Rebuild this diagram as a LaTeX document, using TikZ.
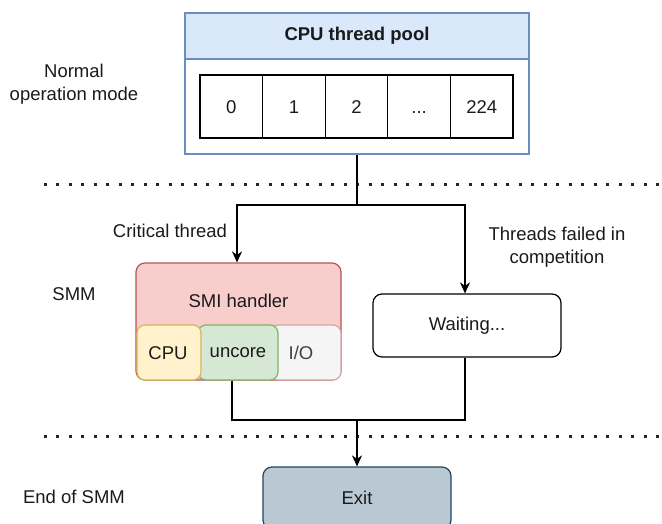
\documentclass[tikz,border=0pt]{standalone}
\usepackage{fontspec}
\setmainfont{Liberation Sans}
\usetikzlibrary{arrows.meta,calc}
\definecolor{hdrfill}{HTML}{DAE8FC}
\definecolor{hdrline}{HTML}{6C8EBF}
\definecolor{smifill}{HTML}{F8CECC}
\definecolor{smiline}{HTML}{B85450}
\definecolor{cpufill}{HTML}{FFF2CC}
\definecolor{cpuline}{HTML}{D6B656}
\definecolor{uncfill}{HTML}{D5E8D4}
\definecolor{uncline}{HTML}{82B366}
\definecolor{iofill}{HTML}{F5F5F5}
\definecolor{ioline}{HTML}{D9A3A1}
\definecolor{exitfill}{HTML}{BAC8D3}
\definecolor{exitline}{HTML}{23445D}
\definecolor{ink}{HTML}{1A1A1A}
\tikzset{
  txt/.style={font=\fontsize{18.5}{23}\selectfont, text=ink, align=center, inner sep=0pt},
  cell/.style={draw=black, line width=1.3pt, minimum width=62.6pt, minimum height=63pt, inner sep=0pt,
               text height=13.3pt, text depth=0pt, txt},
  wire/.style={draw=black, line width=1.3pt},
  arrowwire/.style={wire, -{Stealth[length=11pt,width=10pt,inset=3.5pt]}},
  divider/.style={line width=3pt, dash pattern=on 3pt off 9.5pt, draw=black!85},
  rbox/.style={rounded corners=9pt, line width=1.2pt, inner sep=0pt},
}
\begin{document}
\begin{tikzpicture}[x=1pt,y=-1pt]
\useasboundingbox (0,0) rectangle (662,524);

% phase labels on the left
\node[txt] (lblnormal) at (74,84) {Normal\\operation mode};
\node[txt] (lblsmm) at (74,294) {SMM};
\node[txt] (lblend) at (74,497) {End of SMM};

% phase dividers
\draw[divider] (43.5,185) -- (662,185);
\draw[divider] (43.5,436) -- (662,436);

% thread pool
\node[fill=hdrfill, draw=hdrline, line width=1.2pt, minimum width=344pt, minimum height=46pt, inner sep=0pt,
      txt, font=\fontsize{18.5}{23}\selectfont\bfseries] (head) at (357,36) {CPU thread pool};
\node[draw=hdrline, line width=1.2pt, minimum width=344pt, minimum height=141pt, inner sep=0pt] (pool) at (357,83.5) {};
\node[cell] (c0) at (231.3,106.5) {0};
\node[cell] (c1) at (293.9,106.5) {1};
\node[cell] (c2) at (356.5,106.5) {2};
\node[cell] (c3) at (419.1,106.5) {...};
\node[cell] (c4) at (481.7,106.5) {224};

% SMI handler with its parts
\node[rbox, fill=smifill, draw=smiline, minimum width=205pt, minimum height=117pt] (smi) at (238.5,321.5) {};
\node[txt] (smilabel) at (238.5,301) {SMI handler};
\node[rbox, rounded corners=8pt, fill=iofill, draw=ioline, minimum width=71pt, minimum height=55pt] (io) at (305.5,352.5) {};
\node[rbox, rounded corners=8pt, fill=uncfill, draw=uncline, minimum width=80pt, minimum height=55pt] (unc) at (238,352.5) {};
\node[rbox, rounded corners=8pt, fill=cpufill, draw=cpuline, minimum width=64pt, minimum height=55pt] (cpu) at (169,352.5) {};
\node[txt] (cputxt) at (168,353) {CPU};
\node[txt] (unctxt) at (238,353) {uncore};
\node[txt, text=black!75] (iotxt) at (301,353) {I/O};

% waiting threads
\node[rbox, draw=black, fill=white, minimum width=188pt, minimum height=63pt, txt] (wait) at (467,325.5) {Waiting...};

% exit
\node[rbox, fill=exitfill, draw=exitline, minimum width=188pt, minimum height=62pt, txt] (exit) at (357,498) {Exit};

% branch labels
\node[txt] (lblcrit) at (170,231) {Critical thread};
\node[txt] (lblfail) at (557,247) {Threads failed in\\competition};

% connectors
\coordinate (split) at (357,205);
\coordinate (merge) at (357,420);
\draw[wire] (pool.south) -- (split);
\draw[arrowwire] (split) -| ([xshift=-1.5pt]smi.north);
\draw[arrowwire] (split) -| ([xshift=-2pt]wait.north);
\draw[wire] ([xshift=-6.5pt]smi.south) |- (merge);
\draw[wire] ([xshift=-2pt]wait.south) |- (merge);
\draw[arrowwire] (merge) -- (exit.north);
\end{tikzpicture}
\end{document}
